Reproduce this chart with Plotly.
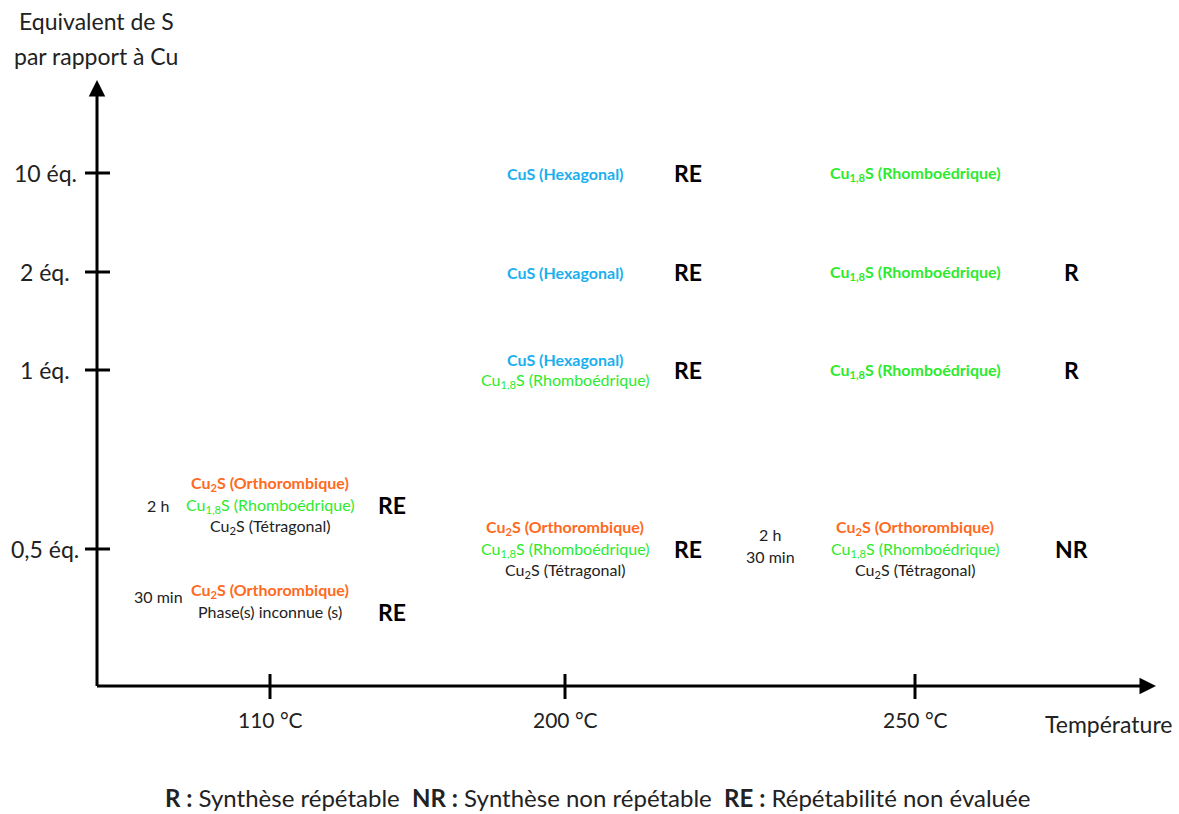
import plotly.graph_objects as go

# ---------------- data ----------------
temperatures = ["110 °C", "200 °C", "250 °C"]
equivalents = ["10 éq.", "2 éq.", "1 éq.", "0,5 éq."]
y_axis_title = ["Equivalent de S", "par rapport à Cu"]
x_axis_title = "Température"
legend_items = [("R :", "Synthèse répétable"),
                ("NR :", "Synthèse non répétable"),
                ("RE :", "Répétabilité non évaluée")]

# phases: (name, colour key)
CUS_H = ("CuS (Hexagonal)", "blue")
CU18_R = ("Cu<sub>1,8</sub>S (Rhomboédrique)", "green")
CU2_O = ("Cu<sub>2</sub>S (Orthorombique)", "orange")
CU2_T = ("Cu<sub>2</sub>S (Tétragonal)", "black")
UNKNOWN = ("Phase(s) inconnue (s)", "black")

# each result: temperature, equivalent, group (0 = on the level, -1 above, +1 below),
# list of (phase, bold), duration lines, repeatability
results = [
    ("200 °C", "10 éq.", 0, [(CUS_H, True)], [], "RE"),
    ("250 °C", "10 éq.", 0, [(CU18_R, True)], [], ""),
    ("200 °C", "2 éq.", 0, [(CUS_H, True)], [], "RE"),
    ("250 °C", "2 éq.", 0, [(CU18_R, True)], [], "R"),
    ("200 °C", "1 éq.", 0, [(CUS_H, True), (CU18_R, False)], [], "RE"),
    ("250 °C", "1 éq.", 0, [(CU18_R, True)], [], "R"),
    ("110 °C", "0,5 éq.", -1, [(CU2_O, True), (CU18_R, False), (CU2_T, False)], ["2 h"], "RE"),
    ("110 °C", "0,5 éq.", 1, [(CU2_O, True), (UNKNOWN, False)], ["30 min"], "RE"),
    ("200 °C", "0,5 éq.", 0, [(CU2_O, True), (CU18_R, False), (CU2_T, False)], [], "RE"),
    ("250 °C", "0,5 éq.", 0, [(CU2_O, True), (CU18_R, False), (CU2_T, False)], ["2 h", "30 min"], "NR"),
]

# ---------------- layout / style ----------------
W, H = 1179, 814
FONT = "Lato"
TXT = "#222222"
COLORS = {"blue": "#1AAFEE", "green": "#2EEA2E", "orange": "#FF6A1E", "black": TXT}
temp_x = dict(zip(temperatures, [270, 565, 915]))
rating_x = dict(zip(temperatures, [392, 688, 1071]))
duration_x = dict(zip(temperatures, [158, None, 770]))
eq_y = dict(zip(equivalents, [173, 272, 370, 549]))
group_shift = {-1: -44, 0: 0, 1: 52}
LINE = 21.5
ORIGIN = (97, 686)
BIG = 23
SMALL = 16

fig = go.Figure()
fig.add_trace(go.Scatter(x=[0, W], y=[0, H], mode="markers", marker=dict(opacity=0),
                         hoverinfo="skip", showlegend=False))

shapes = []
ann = []

# axes with arrows
ann.append(dict(x=1156, y=ORIGIN[1], ax=ORIGIN[0] - 1.5, ay=ORIGIN[1], xref="x", yref="y",
                axref="x", ayref="y", showarrow=True, arrowhead=2, arrowsize=1.1,
                arrowwidth=3, arrowcolor="black", text="", standoff=0, startstandoff=0))
ann.append(dict(x=ORIGIN[0], y=80, ax=ORIGIN[0], ay=ORIGIN[1] + 1.5, xref="x", yref="y",
                axref="x", ayref="y", showarrow=True, arrowhead=2, arrowsize=1.1,
                arrowwidth=3, arrowcolor="black", text="", standoff=0, startstandoff=0))

# ticks
for t in temperatures:
    shapes.append(dict(type="line", x0=temp_x[t], x1=temp_x[t], y0=674, y1=699,
                       line=dict(color="black", width=3), xref="x", yref="y"))
    ann.append(dict(x=temp_x[t], y=719, text=t, showarrow=False,
                    font=dict(family=FONT, size=21, color=TXT), xanchor="center", yanchor="middle"))
for e in equivalents:
    shapes.append(dict(type="line", x0=85, x1=110, y0=eq_y[e], y1=eq_y[e],
                       line=dict(color="black", width=3), xref="x", yref="y"))
    ann.append(dict(x=45, y=eq_y[e], text=e, showarrow=False,
                    font=dict(family=FONT, size=BIG, color=TXT), xanchor="center", yanchor="middle"))

# axis titles
for i, line in enumerate(y_axis_title):
    ann.append(dict(x=96, y=21 + 35 * i, text=line, showarrow=False,
                    font=dict(family=FONT, size=BIG, color=TXT), xanchor="center", yanchor="middle"))
ann.append(dict(x=1108, y=724, text=x_axis_title, showarrow=False,
                font=dict(family=FONT, size=BIG, color=TXT), xanchor="center", yanchor="middle"))

# results
for temp, eq, grp, phases, durations, rating in results:
    yc = eq_y[eq] + group_shift[grp]
    n = len(phases)
    for k, ((name, ckey), bold) in enumerate(phases):
        y = yc + (k - (n - 1) / 2) * LINE
        txt = f"<b>{name}</b>" if bold else name
        ann.append(dict(x=temp_x[temp], y=y, text=txt, showarrow=False,
                        font=dict(family=FONT, size=SMALL, color=COLORS[ckey]),
                        xanchor="center", yanchor="middle"))
    m = len(durations)
    for k, d in enumerate(durations):
        y = yc + (k - (m - 1) / 2) * LINE + (-3.5 if m > 1 else 0)
        if grp == 1:
            y = yc - 5
        ann.append(dict(x=duration_x[temp], y=y, text=d, showarrow=False,
                        font=dict(family=FONT, size=SMALL, color=TXT),
                        xanchor="center", yanchor="middle"))
    if rating:
        ry = yc + (LINE / 2 if grp == 1 else 0)
        ann.append(dict(x=rating_x[temp], y=ry, text=f"<b>{rating}</b>", showarrow=False,
                        font=dict(family=FONT, size=BIG, color="black"),
                        xanchor="center", yanchor="middle"))

# legend line
leg = "  ".join(f"<b>{a}</b> {b}" for a, b in legend_items)
ann.append(dict(x=597, y=797, text=leg, showarrow=False,
                font=dict(family=FONT, size=24, color=TXT), xanchor="center", yanchor="middle"))

fig.update_layout(
    width=W, height=H, margin=dict(l=0, r=0, t=0, b=0),
    paper_bgcolor="white", plot_bgcolor="white",
    xaxis=dict(range=[0, W], visible=False, fixedrange=True),
    yaxis=dict(range=[H, 0], visible=False, fixedrange=True),
    shapes=shapes, annotations=ann, showlegend=False,
)

fig.write_html("out.html", config={"displayModeBar": False},
               post_script="document.body.style.margin='0';document.body.style.overflow='hidden';")
